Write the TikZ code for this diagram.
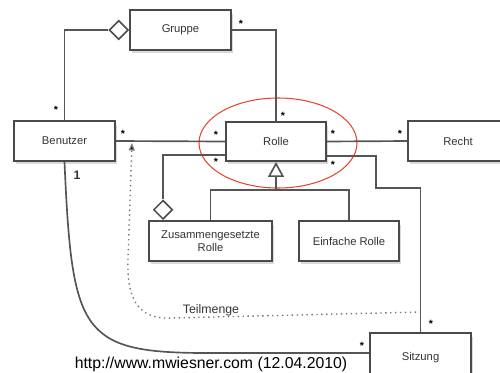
\documentclass[tikz,border=0pt]{standalone}
\usepackage{fontspec}
\setmainfont{Liberation Sans}
\usetikzlibrary{shapes.geometric,shadows,arrows.meta}
\definecolor{boxline}{HTML}{4A4A4A}
\definecolor{conline}{HTML}{555555}
\definecolor{boxtext}{HTML}{333333}
\definecolor{markred}{HTML}{E8462C}
\begin{document}
\begin{tikzpicture}[x=0.02cm,y=-0.02cm,
  classbox/.style={shape=rectangle,draw=boxline,line width=1.1pt,fill=white,
    minimum width=2.02cm,minimum height=0.8cm,text=boxtext,align=center,
    font=\fontsize{6.4}{7.4}\selectfont,
    drop shadow={opacity=0.3,shadow xshift=0.04cm,shadow yshift=-0.07cm}},
  aggr/.style={shape=diamond,draw=boxline,line width=0.9pt,fill=white,
    minimum width=0.38cm,minimum height=0.38cm,inner sep=0pt},
  conn/.style={draw=conline,line width=0.95pt},
  mult/.style={font=\fontsize{6}{6}\selectfont\bfseries,text=black,inner sep=0pt}]
\useasboundingbox (0,0) rectangle (500,372);

%red highlight round Rolle
\draw [markred,line width=0.6pt] (278,143) ellipse [x radius=79,y radius=45];

%draw class boxes
\node [classbox] at (180.5,30) (gruppe) {Gruppe};
\node [classbox] at (64.5,141) (benutzer) {Benutzer};
\node [classbox,minimum width=2cm,minimum height=0.78cm] at (276,141.5) (rolle) {Rolle};
\node [classbox,minimum width=3.2cm] at (488,141) (recht) {\hspace*{-1.2cm}Recht};
\node [classbox,minimum width=2.46cm] at (210.5,241) (zusammen) {Zusammengesetzte\\Rolle};
\node [classbox,minimum width=2cm] at (349,241) (einfache) {Einfache Rolle};
\node [classbox,minimum height=1.2cm,text depth=0.28cm] at (420.5,363) (sitzung) {Sitzung};

%aggregation diamonds
\node [aggr,anchor=east] at (gruppe.west) (gruppediamond) {};
\node [aggr,anchor=south] at ([xshift=0.3cm]zusammen.north west) (zusammendiamond) {};

%helper points
\coordinate (gensplit) at (276,190);
\coordinate (sitzbend) at (376,188);
\coordinate (subsetstart) at (421,312);
\coordinate (subsettip) at (132,143);
\coordinate (curvebend) at (200,353);
\coordinate (sitzjoin) at (sitzung.west |- curvebend);

%associations
\draw [conn] (gruppediamond.west) -| (benutzer.north);
\draw [conn] (gruppe.east) -| (rolle.north);
\draw [conn] (benutzer.east) -- (rolle.west);
\draw [conn] (rolle.east) -- (recht.west);
\draw [conn] ([yshift=-0.29cm]rolle.east) -| (sitzbend) -| (sitzung.north);
\draw [conn] ([yshift=-0.27cm]rolle.west) -| (zusammendiamond.north);
\draw [conn] (benutzer.south) .. controls (72,330) and (80,352) .. (curvebend) -- (sitzjoin);

%generalisation
\draw [conn,-{Triangle[open,length=0.3cm,width=0.32cm]}] (gensplit) -- (rolle.south);
\draw [conn] (zusammen.north) |- (gensplit) -| (einfache.north);

%subset constraint
\draw [conline!80,line width=0.8pt,dotted,-{Triangle[length=0.15cm,width=0.12cm,fill=black]}]
  (subsetstart) -- (172,318) .. controls (135,320) and (127,295) .. (128,260) -- (subsettip);
\node [font=\fontsize{7}{8}\selectfont,text=boxtext] at (211,310) (teilmenge) {Teilmenge};

%multiplicities
\node [mult] at (56,110) (m1) {*};
\node [mult] at (241,24) (m2) {*};
\node [mult] at (123,134) (m3) {*};
\node [mult] at (216,135) (m4) {*};
\node [mult] at (216,162) (m5) {*};
\node [mult] at (283,116) (m6) {*};
\node [mult] at (333,134) (m7) {*};
\node [mult] at (333,165) (m8) {*};
\node [mult] at (400,134) (m9) {*};
\node [mult] at (431,324) (m10) {*};
\node [mult] at (362,346) (m11) {*};
\node [font=\fontsize{7}{8}\selectfont\bfseries,text=boxtext] at (77,175) (one) {1};

%source
\node [anchor=base,font=\fontsize{9}{10}\selectfont] at (211,368) (source) {http://www.mwiesner.com (12.04.2010)};
\end{tikzpicture}
\end{document}
